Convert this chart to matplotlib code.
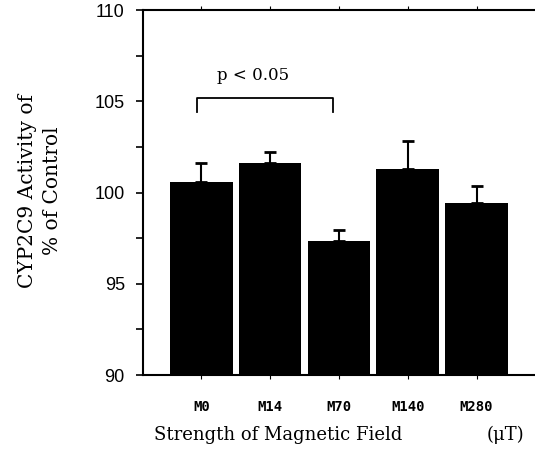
import numpy as np
import matplotlib
matplotlib.use('Agg')
import matplotlib.pyplot as plt

groups = ['M0', 'M14', 'M70', 'M140', 'M280']
activity = [100.6, 101.6, 97.35, 101.3, 99.4]
err = [1.0, 0.6, 0.6, 1.55, 0.95]  # solo barra superior

fig = plt.figure(figsize=(5.35, 4.59), dpi=100)
ax = fig.add_axes([0.267, 0.183, 0.733, 0.795])

x = np.arange(len(groups))
ax.bar(x, activity, width=0.91, color='black', bottom=0)
ax.errorbar(x, activity, yerr=[np.zeros(len(err)), err], fmt='none',
            ecolor='black', elinewidth=1.5, capsize=4, capthick=2)

ax.set_ylim(90, 110)
ax.set_xlim(-0.85, 4.85)
ax.set_yticks([90, 95, 100, 105, 110])
ax.set_yticks(np.arange(90, 110.1, 2.5), minor=True)
ax.tick_params(axis='y', which='both', direction='out', length=5, width=1.2, pad=8)
for lab in ax.get_yticklabels():
    lab.set_family(['Liberation Sans Narrow', 'Liberation Sans'])
    lab.set_fontsize(13)

ax.set_xticks(x)
ax.set_xticklabels(groups, family='DejaVu Sans Mono', fontsize=10, fontweight='bold')
ax.tick_params(axis='x', which='both', direction='out', length=3, pad=15, top=True)

ax.spines['right'].set_visible(False)
for s in ['left', 'top', 'bottom']:
    ax.spines[s].set_linewidth(1.5)

# corchete de significancia
yb = 105.2
ax.plot([-0.07, -0.07, 1.92, 1.92], [104.4, yb, yb, 104.4], color='black', lw=1.3)
ax.text(0.75, 106.4, 'p < 0.05', ha='center', va='center', family='DejaVu Serif', fontsize=12)

fig.text(0.075, 0.584, 'CYP2C9 Activity of\n% of Control', rotation=90, ha='center', va='center',
         multialignment='center', family='DejaVu Serif', fontsize=14.5, linespacing=1.45)
fig.text(0.52, 0.052, 'Strength of Magnetic Field', ha='center', va='center',
         family='DejaVu Serif', fontsize=13)
fig.text(0.945, 0.052, '(μT)', ha='center', va='center', family='DejaVu Serif', fontsize=13)

plt.savefig('out.png', dpi=100)
